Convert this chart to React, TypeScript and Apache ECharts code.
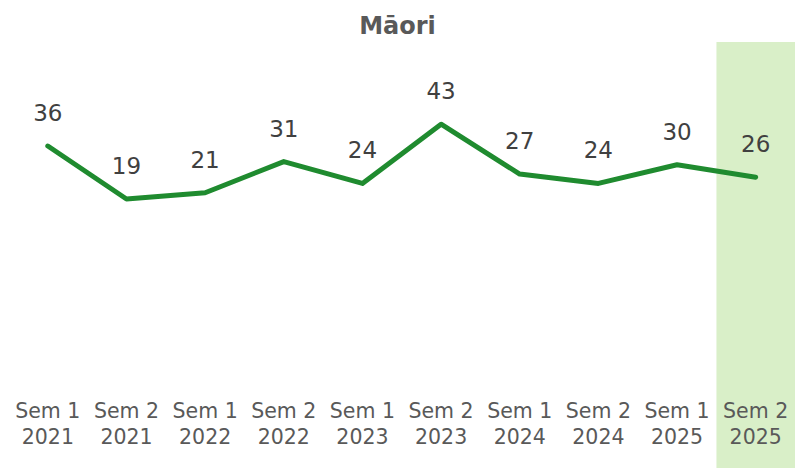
import React, { useEffect, useRef } from "react";
import * as echarts from "echarts";

const categories = [
  "Sem 1\n2021", "Sem 2\n2021", "Sem 1\n2022", "Sem 2\n2022", "Sem 1\n2023",
  "Sem 2\n2023", "Sem 1\n2024", "Sem 2\n2024", "Sem 1\n2025", "Sem 2\n2025",
];
const values = [36, 19, 21, 31, 24, 43, 27, 24, 30, 26];
const highlight = [null, null, null, null, null, null, null, null, null, 1];
const title = "Māori";

export default function App() {
  const ref = useRef<HTMLDivElement>(null);
  useEffect(() => {
    const chart = echarts.init(ref.current!, null, { renderer: "svg" });
    chart.setOption({
      animation: false,
      title: {
        text: title,
        left: "center",
        top: 9,
        textStyle: { fontFamily: "DejaVu Sans", fontSize: 24, fontWeight: "bold", color: "#595959" },
      },
      grid: [
        { left: 8.5, width: 790, top: 40, height: 358.6 },
        { left: 9.5, width: 790, top: 42, bottom: 0 },
      ],
      xAxis: [
        {
          type: "category",
          gridIndex: 0,
          data: categories,
          z: 5,
          axisLine: { show: false },
          axisTick: { show: false },
          axisLabel: {
            interval: 0,
            margin: -1,
            fontFamily: "DejaVu Sans",
            fontSize: 20.5,
            lineHeight: 26.5,
            color: "#595959",
          },
        },
        {
          type: "category",
          gridIndex: 1,
          data: categories,
          show: false,
        },
      ],
      yAxis: [
        { type: "value", gridIndex: 0, min: -45, max: 70, show: false, splitLine: { show: false } },
        { type: "value", gridIndex: 1, min: 0, max: 1, show: false, splitLine: { show: false } },
      ],
      series: [
        {
          type: "bar",
          xAxisIndex: 1,
          yAxisIndex: 1,
          data: highlight,
          barWidth: "100%",
          barCategoryGap: 0,
          itemStyle: { color: "#d9efc8" },
          z: 0,
          silent: true,
        },
        {
          type: "line",
          xAxisIndex: 0,
          yAxisIndex: 0,
          data: values,
          z: 3,
          symbol: "circle",
          symbolSize: 1,
          showSymbol: true,
          itemStyle: { color: "rgba(0,0,0,0)" },
          lineStyle: { color: "#1f8b2f", width: 5, cap: "round", join: "round" },
          labelLayout: { hideOverlap: false },
          label: {
            show: true,
            position: "top",
            distance: 21,
            fontFamily: "DejaVu Sans",
            fontSize: 23,
            color: "#404040",
          },
        },
      ],
    });
    return () => chart.dispose();
  }, []);
  return (
    <div
      ref={ref}
      style={{ position: "fixed", left: 0, top: 0, width: 795, height: 468, background: "#fff" }}
    />
  );
}
